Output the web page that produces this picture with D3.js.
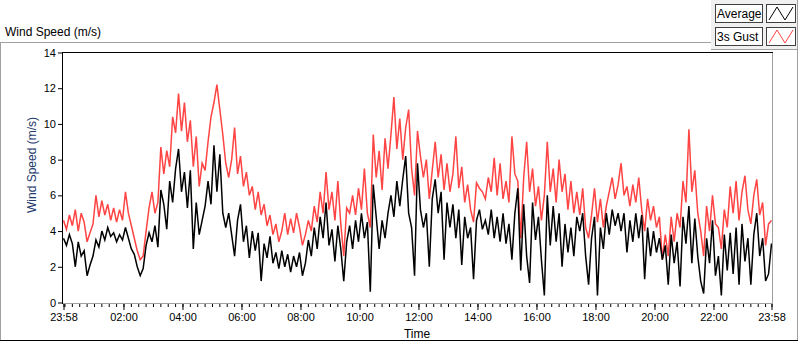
<!DOCTYPE html>
<html lang="en">
<head>
<meta charset="utf-8" />
<title>Wind Speed (m/s)</title>
<script src="https://d3js.org/d3.v7.min.js"></script>
<style>
  body { margin: 0; background: #ffffff; font-family: "Liberation Sans", Arial, sans-serif; }
  svg  { display: block; }
  .tick text { font-family: "Liberation Sans", Arial, sans-serif; font-size: 11px; fill: #000; }
  .tick line { stroke: #000; }
  .domain    { display: none; }
  path.series { fill: none; stroke-width: 1.5px; stroke-linejoin: miter; }
</style>
</head>
<body>
<svg id="chart" width="800" height="342"></svg>
<script>
// ── data: one sample every 6 minutes, starting 23:58 ──
const sampleMinutes = 6;

const average = [
  3.6,3.2,3.8,3.3,2.0,3.4,2.6,2.9,1.5,2.1, 2.6,3.5,3.1,4.0,3.5,4.2,3.7,3.9,3.4,3.8,
  3.5,4.2,3.6,3.0,2.7,2.0,1.5,1.9,3.2,3.9, 3.4,4.3,3.1,6.3,5.5,4.1,6.8,5.6,7.5,8.6,
  6.2,7.3,5.3,7.4,3.0,5.6,3.8,4.6,5.4,6.8, 5.5,8.8,6.2,8.3,5.0,4.2,5.0,3.8,2.6,4.6,
  5.5,3.4,4.3,2.5,4.0,2.9,3.9,1.2,3.3,2.5, 3.7,2.2,2.8,1.9,2.9,2.0,2.7,1.7,2.6,2.0,
  2.8,1.5,2.2,3.5,2.6,4.2,3.0,4.8,3.6,5.6, 3.2,4.1,2.3,4.3,3.0,1.2,3.4,4.3,3.0,4.6,
  3.4,5.0,3.6,4.5,0.6,6.6,4.8,3.0,4.6,3.6, 5.0,6.0,4.8,6.8,5.4,6.9,8.2,5.0,4.2,1.5,
  7.8,5.2,4.2,5.0,2.0,5.8,6.9,5.0,6.2,2.4, 5.6,4.2,5.5,3.6,5.2,2.1,4.8,3.6,4.2,1.3,
  4.6,5.2,4.1,4.6,3.8,5.2,3.6,4.8,3.4,5.0, 3.3,4.4,2.4,5.0,6.4,1.8,5.5,2.6,1.1,5.6,
  3.5,4.8,2.4,0.4,6.0,3.2,5.4,3.4,5.0,2.0, 4.4,2.8,4.2,2.6,4.8,4.0,5.0,2.6,1.0,3.6,
  4.8,0.4,4.2,3.0,5.0,3.8,5.2,4.3,5.0,4.0, 5.0,2.8,4.6,3.4,5.0,3.6,4.9,1.3,4.2,2.6,
  4.0,2.8,3.6,2.4,3.2,1.0,3.8,2.2,3.4,0.9, 4.8,3.3,5.4,2.2,4.7,2.6,1.2,0.5,3.6,2.2,
  4.6,1.5,2.6,0.4,3.8,1.8,3.9,1.6,4.2,1.0, 4.4,2.3,3.6,1.0,3.8,5.0,2.6,3.6,1.2,1.6,
  3.3
];

const gust = [
  4.6,4.1,4.9,4.3,5.2,4.0,5.0,4.5,3.4,3.9, 4.4,6.0,4.8,5.7,4.9,5.5,4.6,5.3,4.5,5.2,
  4.6,6.2,5.0,4.3,3.6,2.9,2.4,2.6,4.0,5.3, 6.2,5.0,5.6,8.7,7.2,8.5,7.6,10.4,9.5,11.7,
  9.6,11.2,9.0,10.2,7.6,9.3,6.5,7.8,7.4,9.0, 10.4,11.2,12.2,10.8,9.4,7.8,7.0,8.0,9.8,7.2,
  8.2,6.5,7.3,6.0,6.5,5.2,6.2,4.9,5.5,4.3, 4.9,3.8,4.4,3.4,4.0,5.0,3.8,4.7,3.9,5.0,
  4.2,3.2,3.8,4.6,4.0,5.4,4.5,6.2,5.0,7.3, 5.2,6.2,4.6,6.8,4.4,2.6,5.3,5.0,6.0,4.9,
  6.4,5.2,7.5,5.0,4.2,9.4,7.0,8.5,6.3,9.2, 7.5,9.4,11.5,8.6,10.3,8.0,9.8,10.8,7.5,6.0,
  9.6,8.2,7.0,8.0,5.8,7.4,9.0,7.0,8.3,6.3, 7.8,6.2,7.2,9.3,6.4,7.6,5.6,6.6,5.2,4.5,
  6.7,6.4,6.2,5.8,7.0,6.2,8.1,6.0,7.8,5.8, 6.8,5.6,9.3,7.2,6.8,3.6,7.0,9.0,6.2,7.5,
  5.4,6.5,4.6,6.0,9.0,6.2,7.5,5.6,8.0,6.2, 7.2,5.2,6.8,5.0,6.2,4.9,6.4,4.2,3.6,4.9,
  6.4,4.5,5.8,4.2,5.4,6.2,7.0,5.8,6.6,7.8, 6.0,6.5,5.4,6.6,5.6,7.0,5.2,4.0,5.8,4.6,
  5.4,4.2,4.8,2.4,3.8,2.6,4.8,3.4,5.0,4.2, 6.8,5.6,9.7,6.2,7.4,5.0,4.0,2.6,5.4,4.0,
  6.0,4.4,4.2,3.0,5.2,4.2,6.5,5.0,6.8,4.6, 6.2,7.1,5.2,4.4,6.0,6.9,4.9,5.6,3.2,4.4,
  4.6
];

const yTicks      = [0, 2, 4, 6, 8, 10, 12, 14];
const tickLabels  = ["23:58","02:00","04:00","06:00","08:00","10:00","12:00",
                     "14:00","16:00","18:00","20:00","22:00","23:58"];
const legendItems = [
  { name: "Average",  color: "#000000" },
  { name: "3s Gust",  color: "#ff4444" }
];

// ── stage ──
const svg = d3.select("#chart");
const start = new Date(2020, 0, 1, 23, 58);
const end   = d3.timeMinute.offset(start, 24 * 60);

const x = d3.scaleTime().domain([start, end]).range([63.5, 771.5]);
const y = d3.scaleLinear().domain([0, 14]).range([302.5, 52.5]);

const timeOf = i => d3.timeMinute.offset(start, i * sampleMinutes);

// outer panel frame
const grey = "#a0a0a0";
svg.append("line").attr("x1", 0).attr("x2", 711).attr("y1", 42.5).attr("y2", 42.5).attr("stroke", grey);
svg.append("line").attr("x1", 0.5).attr("x2", 0.5).attr("y1", 42).attr("y2", 341).attr("stroke", grey);
svg.append("line").attr("x1", 797.5).attr("x2", 797.5).attr("y1", 0).attr("y2", 341).attr("stroke", grey);
svg.append("line").attr("x1", 0).attr("x2", 798).attr("y1", 340.5).attr("y2", 340.5).attr("stroke", "#000");

svg.append("text")
  .attr("x", 5).attr("y", 36)
  .style("font-size", "12px")
  .text("Wind Speed (m/s)");

// plot background
svg.append("rect").attr("x", 63).attr("y", 53).attr("width", 709).attr("height", 250).attr("fill", "#fff");

svg.append("clipPath").attr("id", "plotClip")
  .append("rect").attr("x", 63).attr("y", 53).attr("width", 709).attr("height", 250);

// series (gust under average)
const line = d3.line()
  .x((d, i) => x(timeOf(i)))
  .y(d => y(d));

const plot = svg.append("g").attr("clip-path", "url(#plotClip)");
plot.append("path").datum(gust).attr("class", "series")
  .attr("stroke", legendItems[1].color).attr("d", line);
plot.append("path").datum(average).attr("class", "series")
  .attr("stroke", legendItems[0].color).attr("d", line);

// inset border: dark top/left, grey right/bottom
svg.append("line").attr("x1", 62).attr("x2", 773).attr("y1", 52.5).attr("y2", 52.5).attr("stroke", "#000");
svg.append("line").attr("x1", 62.5).attr("x2", 62.5).attr("y1", 52).attr("y2", 304).attr("stroke", "#000");
svg.append("line").attr("x1", 772.5).attr("x2", 772.5).attr("y1", 53).attr("y2", 304).attr("stroke", grey);
svg.append("line").attr("x1", 63).attr("x2", 773).attr("y1", 303.5).attr("y2", 303.5).attr("stroke", grey);

// y axis
svg.append("g")
  .attr("transform", "translate(62,0)")
  .call(d3.axisLeft(y).tickValues(yTicks).tickSize(4).tickPadding(2).tickFormat(d3.format("d")));

svg.append("text")
  .attr("transform", "translate(36,165) rotate(-90)")
  .attr("text-anchor", "middle")
  .style("font-size", "12px")
  .attr("fill", "#20386a")
  .text("Wind Speed (m/s)");

// x axis: minor ticks every 15 min, major ticks at the labels
const labelTimes = tickLabels.map((t, i) => {
  if (i === 0) return start;
  if (i === tickLabels.length - 1) return end;
  const [h, m] = t.split(":").map(Number);
  return new Date(2020, 0, 2, h, m);
});
const minor = d3.timeMinute.every(15).range(start, end).concat([start, end]);

svg.append("g")
  .attr("transform", "translate(0,304)")
  .call(d3.axisBottom(x).tickValues(minor).tickSize(3).tickFormat(""));

svg.append("g")
  .attr("transform", "translate(0,304)")
  .call(d3.axisBottom(x).tickValues(labelTimes).tickSize(6).tickPadding(3)
        .tickFormat((d, i) => tickLabels[i]));

svg.append("text")
  .attr("x", 417).attr("y", 338)
  .attr("text-anchor", "middle")
  .style("font-size", "12px")
  .text("Time");

// legend panel
svg.append("rect").attr("x", 711).attr("y", 0).attr("width", 86).attr("height", 49).attr("fill", "#f0f0f0");
svg.append("line").attr("x1", 711).attr("x2", 798).attr("y1", 49.5).attr("y2", 49.5).attr("stroke", grey);

const legend = svg.selectAll("g.legend")
  .data(legendItems)
  .enter().append("g")
    .attr("class", "legend")
    .attr("transform", (d, i) => `translate(0,${4 + i * 23})`);

legend.append("rect")
  .attr("x", 715.5).attr("y", 0.5).attr("width", 47).attr("height", 18)
  .attr("fill", "#fff").attr("stroke", "#404040");
legend.append("text")
  .attr("x", 717).attr("y", 14)
  .style("font-size", "12px")
  .text(d => d.name);
legend.append("rect")
  .attr("x", 766.5).attr("y", 0.5).attr("width", 29).attr("height", 18)
  .attr("fill", "#fff").attr("stroke", "#404040");
legend.append("polyline")
  .attr("points", "769,16 777,3 785,16 793,3")
  .attr("fill", "none")
  .attr("stroke", d => d.color);
</script>
</body>
</html>
